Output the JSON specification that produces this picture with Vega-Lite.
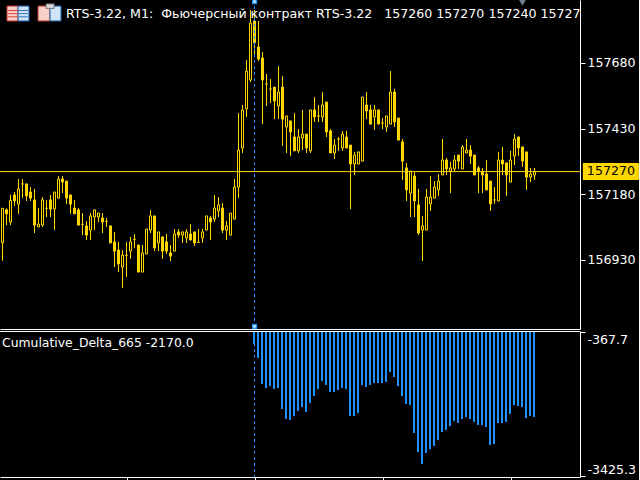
{"$schema":"https://vega.github.io/schema/vega-lite/v6.json","background":"#000000","padding":{"left":-1,"top":-1,"right":0,"bottom":0},"spacing":0,"config":{"view":{"stroke":null}},
"datasets":{
"candles":[
{"i":0,"o":156995,"c":157126,"h":157126,"l":156926},{"i":1,"o":157120,"c":157105,"h":157126,"l":157062},{"i":2,"o":157074,"c":157156,"h":157177,"l":157062},{"i":3,"o":157177,"c":157154,"h":157188,"l":157135},{"i":4,"o":157142,"c":157200,"h":157238,"l":157105},{"i":5,"o":157219,"c":157219,"h":157238,"l":157165},{"i":6,"o":157219,"c":157173,"h":157219,"l":157154},{"i":7,"o":157188,"c":157165,"h":157207,"l":157154},{"i":8,"o":157158,"c":157062,"h":157200,"l":157032},{"i":9,"o":157055,"c":157066,"h":157127,"l":157055},
{"i":10,"o":157062,"c":157158,"h":157169,"l":157055},{"i":11,"o":157126,"c":157126,"h":157158,"l":157093},{"i":12,"o":157158,"c":157123,"h":157177,"l":157093},{"i":13,"o":157123,"c":157188,"h":157188,"l":157043},{"i":14,"o":157165,"c":157238,"h":157249,"l":157165},{"i":15,"o":157238,"c":157226,"h":157249,"l":157184},{"i":16,"o":157230,"c":157165,"h":157230,"l":157142},{"i":17,"o":157177,"c":157142,"h":157177,"l":157105},{"i":18,"o":157127,"c":157105,"h":157158,"l":157105},{"i":19,"o":157120,"c":157062,"h":157127,"l":157062},
{"i":20,"o":157065,"c":157065,"h":157108,"l":157024},{"i":21,"o":157059,"c":157024,"h":157078,"l":157005},{"i":22,"o":157043,"c":157097,"h":157108,"l":157005},{"i":23,"o":157093,"c":157120,"h":157120,"l":157043},{"i":24,"o":157093,"c":157108,"h":157108,"l":157074},{"i":25,"o":157089,"c":157074,"h":157108,"l":157032},{"i":26,"o":157076,"c":157076,"h":157089,"l":157055},{"i":27,"o":157059,"c":156994,"h":157059,"l":156994},{"i":28,"o":156998,"c":156963,"h":157036,"l":156902},{"i":29,"o":156967,"c":156914,"h":156998,"l":156883},
{"i":30,"o":156902,"c":156948,"h":156967,"l":156822},{"i":31,"o":156947,"c":156947,"h":156998,"l":156864},{"i":32,"o":156963,"c":156998,"h":157017,"l":156933},{"i":33,"o":157008,"c":157008,"h":157028,"l":156975},{"i":34,"o":156986,"c":156883,"h":156986,"l":156883},{"i":35,"o":156883,"c":156956,"h":156986,"l":156883},{"i":36,"o":156952,"c":157047,"h":157047,"l":156952},{"i":37,"o":157043,"c":157097,"h":157120,"l":157032},{"i":38,"o":157097,"c":156975,"h":157097,"l":156963},{"i":39,"o":156994,"c":157036,"h":157036,"l":156963},
{"i":40,"o":157017,"c":156963,"h":157017,"l":156933},{"i":41,"o":156998,"c":156963,"h":157028,"l":156952},{"i":42,"o":156956,"c":156944,"h":156986,"l":156925},{"i":43,"o":156963,"c":157028,"h":157047,"l":156963},{"i":44,"o":157036,"c":157024,"h":157047,"l":157013},{"i":45,"o":157024,"c":157036,"h":157036,"l":156994},{"i":46,"o":157013,"c":157036,"h":157047,"l":156994},{"i":47,"o":157028,"c":157005,"h":157066,"l":157005},{"i":48,"o":157036,"c":156994,"h":157036,"l":156982},{"i":49,"o":156996,"c":156996,"h":157047,"l":156994},
{"i":50,"o":157013,"c":157036,"h":157047,"l":156994},{"i":51,"o":157043,"c":157097,"h":157097,"l":157043},{"i":52,"o":157089,"c":157074,"h":157097,"l":157005},{"i":53,"o":157085,"c":157127,"h":157177,"l":157074},{"i":54,"o":157116,"c":157139,"h":157169,"l":157093},{"i":55,"o":157127,"c":157043,"h":157146,"l":157032},{"i":56,"o":157043,"c":157059,"h":157078,"l":157005},{"i":57,"o":157024,"c":157108,"h":157108,"l":157024},{"i":58,"o":157085,"c":157207,"h":157238,"l":157085},{"i":59,"o":157207,"c":157348,"h":157489,"l":157165},
{"i":60,"o":157356,"c":157501,"h":157520,"l":157337},{"i":61,"o":157505,"c":157649,"h":157691,"l":157474},{"i":62,"o":157615,"c":157832,"h":157882,"l":157607},{"i":63,"o":157840,"c":157756,"h":157882,"l":157707},{"i":64,"o":157741,"c":157695,"h":157840,"l":157688},{"i":65,"o":157699,"c":157615,"h":157722,"l":157447},{"i":66,"o":157600,"c":157600,"h":157638,"l":157516},{"i":67,"o":157581,"c":157581,"h":157619,"l":157527},{"i":68,"o":157588,"c":157535,"h":157588,"l":157466},{"i":69,"o":157516,"c":157569,"h":157668,"l":157466},
{"i":70,"o":157588,"c":157466,"h":157630,"l":157364},{"i":71,"o":157436,"c":157478,"h":157478,"l":157337},{"i":72,"o":157459,"c":157417,"h":157459,"l":157325},{"i":73,"o":157398,"c":157345,"h":157489,"l":157345},{"i":74,"o":157345,"c":157398,"h":157428,"l":157337},{"i":75,"o":157394,"c":157409,"h":157501,"l":157348},{"i":76,"o":157409,"c":157356,"h":157409,"l":157337},{"i":77,"o":157345,"c":157501,"h":157501,"l":157337},{"i":78,"o":157501,"c":157474,"h":157550,"l":157455},{"i":79,"o":157478,"c":157478,"h":157520,"l":157455},
{"i":80,"o":157474,"c":157520,"h":157569,"l":157455},{"i":81,"o":157531,"c":157417,"h":157531,"l":157398},{"i":82,"o":157421,"c":157337,"h":157428,"l":157337},{"i":83,"o":157337,"c":157367,"h":157390,"l":157314},{"i":84,"o":157390,"c":157390,"h":157398,"l":157345},{"i":85,"o":157356,"c":157409,"h":157421,"l":157345},{"i":86,"o":157398,"c":157356,"h":157421,"l":157356},{"i":87,"o":157367,"c":157295,"h":157367,"l":157123},{"i":88,"o":157295,"c":157329,"h":157341,"l":157253},{"i":89,"o":157295,"c":157341,"h":157341,"l":157295},
{"i":90,"o":157306,"c":157550,"h":157550,"l":157306},{"i":91,"o":157520,"c":157497,"h":157569,"l":157466},{"i":92,"o":157501,"c":157447,"h":157520,"l":157447},{"i":93,"o":157474,"c":157501,"h":157520,"l":157425},{"i":94,"o":157501,"c":157447,"h":157501,"l":157447},{"i":95,"o":157451,"c":157451,"h":157470,"l":157428},{"i":96,"o":157436,"c":157478,"h":157478,"l":157417},{"i":97,"o":157447,"c":157569,"h":157649,"l":157447},{"i":98,"o":157569,"c":157455,"h":157581,"l":157436},{"i":99,"o":157470,"c":157386,"h":157470,"l":157386},
{"i":100,"o":157379,"c":157306,"h":157390,"l":157234},{"i":101,"o":157280,"c":157196,"h":157299,"l":157154},{"i":102,"o":157184,"c":157268,"h":157268,"l":157093},{"i":103,"o":157249,"c":157154,"h":157265,"l":157093},{"i":104,"o":157139,"c":157032,"h":157200,"l":157024},{"i":105,"o":157043,"c":157059,"h":157097,"l":156925},{"i":106,"o":157043,"c":157169,"h":157200,"l":157043},{"i":107,"o":157143,"c":157169,"h":157249,"l":157116},{"i":108,"o":157165,"c":157207,"h":157230,"l":157165},{"i":109,"o":157196,"c":157230,"h":157257,"l":157173},
{"i":110,"o":157253,"c":157310,"h":157390,"l":157253},{"i":111,"o":157310,"c":157276,"h":157318,"l":157253},{"i":112,"o":157268,"c":157280,"h":157303,"l":157184},{"i":113,"o":157276,"c":157310,"h":157329,"l":157268},{"i":114,"o":157329,"c":157306,"h":157329,"l":157276},{"i":115,"o":157276,"c":157360,"h":157367,"l":157276},{"i":116,"o":157337,"c":157348,"h":157390,"l":157337},{"i":117,"o":157348,"c":157325,"h":157367,"l":157295},{"i":118,"o":157329,"c":157253,"h":157329,"l":157253},{"i":119,"o":157280,"c":157268,"h":157287,"l":157184},
{"i":120,"o":157265,"c":157253,"h":157280,"l":157184},{"i":121,"o":157257,"c":157196,"h":157310,"l":157196},{"i":122,"o":157230,"c":157143,"h":157230,"l":157116},{"i":123,"o":157158,"c":157158,"h":157207,"l":157143},{"i":124,"o":157154,"c":157310,"h":157341,"l":157154},{"i":125,"o":157310,"c":157295,"h":157360,"l":157253},{"i":126,"o":157299,"c":157253,"h":157299,"l":157173},{"i":127,"o":157226,"c":157310,"h":157345,"l":157226},{"i":128,"o":157325,"c":157390,"h":157409,"l":157291},{"i":129,"o":157398,"c":157356,"h":157398,"l":157325},
{"i":130,"o":157360,"c":157306,"h":157360,"l":157284},{"i":131,"o":157341,"c":157245,"h":157341,"l":157196},{"i":132,"o":157245,"c":157257,"h":157280,"l":157226},{"i":133,"o":157253,"c":157265,"h":157280,"l":157234}
],
"delta":[
{"i":63,"d":-623},{"i":64,"d":-920},{"i":65,"d":-1472},{"i":66,"d":-1557},{"i":67,"d":-1514},{"i":68,"d":-1578},{"i":69,"d":-1557},{"i":70,"d":-2003},{"i":71,"d":-2215},{"i":72,"d":-2236},{"i":73,"d":-2151},{"i":74,"d":-2045},{"i":75,"d":-1960},{"i":76,"d":-2066},{"i":77,"d":-1875},{"i":78,"d":-1727},{"i":79,"d":-1578},{"i":80,"d":-1408},{"i":81,"d":-1493},{"i":82,"d":-1642},{"i":83,"d":-1642},{"i":84,"d":-1599},{"i":85,"d":-1557},{"i":86,"d":-1578},{"i":87,"d":-2151},{"i":88,"d":-2151},{"i":89,"d":-2088},{"i":90,"d":-1493},{"i":91,"d":-1535},{"i":92,"d":-1493},{"i":93,"d":-1451},{"i":94,"d":-1451},{"i":95,"d":-1451},{"i":96,"d":-1429},{"i":97,"d":-1217},{"i":98,"d":-1323},{"i":99,"d":-1514},{"i":100,"d":-1727},{"i":101,"d":-1896},{"i":102,"d":-1918},{"i":103,"d":-2512},{"i":104,"d":-2916},{"i":105,"d":-3170},{"i":106,"d":-2937},{"i":107,"d":-2852},{"i":108,"d":-2788},{"i":109,"d":-2661},{"i":110,"d":-2491},{"i":111,"d":-2449},{"i":112,"d":-2364},{"i":113,"d":-2257},{"i":114,"d":-2300},{"i":115,"d":-2215},{"i":116,"d":-2172},{"i":117,"d":-2215},{"i":118,"d":-2279},{"i":119,"d":-2342},{"i":120,"d":-2342},{"i":121,"d":-2385},{"i":122,"d":-2767},{"i":123,"d":-2746},{"i":124,"d":-2300},{"i":125,"d":-2300},{"i":126,"d":-2279},{"i":127,"d":-2109},{"i":128,"d":-1918},{"i":129,"d":-1939},{"i":130,"d":-1960},{"i":131,"d":-2194},{"i":132,"d":-2151},{"i":133,"d":-2172}
]},
"vconcat":[
{"width":580,"height":329,"layer":[
{"data":{"name":"candles"},"mark":{"type":"rule","color":"#FFD700","strokeWidth":1,"clip":true},"encoding":{
"x":{"field":"i","type":"quantitative","title":null,"scale":{"domain":[-0.625,144.375],"nice":false,"zero":false,"padding":0},"axis":{"ticks":false,"labels":false,"grid":false,"domainColor":"#ffffff","title":null}},
"y":{"field":"l","type":"quantitative","title":null,"scale":{"domain":[156666,157920],"nice":false,"zero":false},"axis":{"orient":"right","values":[157680,157430,157180,156930],"grid":false,"domainColor":"#ffffff","tickColor":"#ffffff","tickSize":5,"labelColor":"#ffffff","labelFont":"DejaVu Sans","labelFontSize":12.6,"labelPadding":2,"format":"d","title":null}},
"y2":{"field":"h"}}},
{"data":{"name":"candles"},"transform":[{"filter":"datum.c>datum.o"}],"mark":{"type":"bar","size":2,"orient":"vertical","fill":"#000000","stroke":"#FFD700","strokeWidth":1,"clip":true},"encoding":{"x":{"field":"i","type":"quantitative"},"y":{"field":"o","type":"quantitative"},"y2":{"field":"c"}}},
{"data":{"name":"candles"},"transform":[{"filter":"datum.c<=datum.o"}],"mark":{"type":"bar","size":2,"orient":"vertical","fill":"#FFD700","stroke":"#FFD700","strokeWidth":1,"clip":true},"encoding":{"x":{"field":"i","type":"quantitative"},"y":{"field":"o","type":"quantitative"},"y2":{"field":"c"}}},
{"data":{"values":[{"p":157266}]},"mark":{"type":"rule","color":"#FFD700","strokeWidth":1},"encoding":{"y":{"field":"p","type":"quantitative"}}},
{"data":{"values":[{"i":63}]},"mark":{"type":"rule","color":"#1E90FF","strokeWidth":1,"strokeDash":[3,3]},"encoding":{"x":{"field":"i","type":"quantitative"}}},
{"data":{"values":[{"i":63,"p":157914},{"i":63,"p":156676}]},"mark":{"type":"point","shape":"square","filled":true,"fill":"#ffffff","stroke":"#1E90FF","strokeWidth":1.5,"size":14,"opacity":1,"clip":true},"encoding":{"x":{"field":"i","type":"quantitative"},"y":{"field":"p","type":"quantitative"}}},
{"data":{"values":[{"i":130,"p":157918}]},"mark":{"type":"point","shape":"triangle-down","filled":true,"fill":"#708090","size":150,"opacity":1,"clip":true},"encoding":{"x":{"field":"i","type":"quantitative"},"y":{"field":"p","type":"quantitative"}}},
{"data":{"values":[{"a":1.125,"b":3.875,"p":157897,"q":157840},{"a":8.875,"b":11.875,"p":157897,"q":157840}]},"mark":{"type":"rect","fill":"#f7cfc8","stroke":"#c8342b","strokeWidth":1},"encoding":{"x":{"field":"a","type":"quantitative"},"x2":{"field":"b"},"y":{"field":"p","type":"quantitative"},"y2":{"field":"q"}}},
{"data":{"values":[{"a":3.875,"b":6.625,"p":157897,"q":157840},{"a":11.875,"b":14.625,"p":157897,"q":157840}]},"mark":{"type":"rect","fill":"#cfe4f7","stroke":"#1b62ad","strokeWidth":1},"encoding":{"x":{"field":"a","type":"quantitative"},"x2":{"field":"b"},"y":{"field":"p","type":"quantitative"},"y2":{"field":"q"}}},
{"data":{"values":[{"a":1.4,"b":3.875,"p":157880},{"a":1.4,"b":3.875,"p":157868},{"a":1.4,"b":3.875,"p":157856}]},"mark":{"type":"rule","color":"#d9483b","strokeWidth":1},"encoding":{"x":{"field":"a","type":"quantitative"},"x2":{"field":"b"},"y":{"field":"p","type":"quantitative"}}},
{"data":{"values":[{"a":3.875,"b":6.35,"p":157880},{"a":3.875,"b":6.35,"p":157868},{"a":3.875,"b":6.35,"p":157856}]},"mark":{"type":"rule","color":"#2a75c0","strokeWidth":1},"encoding":{"x":{"field":"a","type":"quantitative"},"x2":{"field":"b"},"y":{"field":"p","type":"quantitative"}}},
{"data":{"values":[{"a":10.9,"b":12.9,"p":157905,"q":157888}]},"mark":{"type":"rect","fill":"#d8d8d8","stroke":"#777777","strokeWidth":1},"encoding":{"x":{"field":"a","type":"quantitative"},"x2":{"field":"b"},"y":{"field":"p","type":"quantitative"},"y2":{"field":"q"}}},
{"data":{"values":[{"i":15.875,"p":157866,"t":"RTS-3.22, M1:\u00a0\u00a0Фьючерсный контракт RTS-3.22\u00a0\u00a0\u00a0157260\u00a0157270\u00a0157240\u00a0157270"}]},"mark":{"type":"text","align":"left","baseline":"middle","color":"#ffffff","font":"DejaVu Sans","fontSize":12.6,"clip":true},"encoding":{"x":{"field":"i","type":"quantitative"},"y":{"field":"p","type":"quantitative"},"text":{"field":"t"}}},
{"data":{"values":[{"a":145.1,"b":159.1,"p":157299,"q":157234}]},"mark":{"type":"rect","fill":"#FFD700"},"encoding":{"x":{"field":"a","type":"quantitative"},"x2":{"field":"b"},"y":{"field":"p","type":"quantitative"},"y2":{"field":"q"}}},
{"data":{"values":[{"i":152.1,"p":157270,"t":"157270"}]},"mark":{"type":"text","align":"center","baseline":"middle","color":"#000000","font":"DejaVu Sans","fontSize":12.6},"encoding":{"x":{"field":"i","type":"quantitative"},"y":{"field":"p","type":"quantitative"},"text":{"field":"t"}}}
]},
{"width":580,"height":146,"layer":[
{"data":{"name":"delta"},"mark":{"type":"bar","size":2,"orient":"vertical","color":"#1E90FF","xOffset":-0.5},"encoding":{
"x":{"field":"i","type":"quantitative","title":null,"scale":{"domain":[-0.625,144.375],"nice":false,"zero":false,"padding":0},"axis":{"values":[31,63,95,127],"labels":false,"grid":false,"domainColor":"#ffffff","tickColor":"#ffffff","tickSize":3,"title":null}},
"y":{"field":"d","type":"quantitative","title":null,"scale":{"domain":[-3446,-346.5],"nice":false,"zero":false},"axis":{"orient":"right","values":[-367.7,-3425.3],"grid":false,"domainColor":"#ffffff","tickColor":"#ffffff","tickSize":5,"labelColor":"#ffffff","labelFont":"DejaVu Sans","labelFontSize":12.6,"labelPadding":2,"labelOffset":{"expr":"datum.value > -1000 ? 8 : -7"},"labelExpr":"'' + datum.value","title":null}},
"y2":{"datum":-367.7}}},
{"data":{"values":[{"i":63}]},"mark":{"type":"rule","color":"#1E90FF","strokeWidth":1,"strokeDash":[3,3]},"encoding":{"x":{"field":"i","type":"quantitative"}}},
{"data":{"values":[{"v":-357.1}]},"mark":{"type":"rule","color":"#ffffff","strokeWidth":1},"encoding":{"y":{"field":"v","type":"quantitative"}}},
{"data":{"values":[{"i":-0.125,"v":-601,"t":"Cumulative_Delta_665 -2170.0"}]},"mark":{"type":"text","align":"left","baseline":"middle","color":"#ffffff","font":"DejaVu Sans","fontSize":12.4},"encoding":{"x":{"field":"i","type":"quantitative"},"y":{"field":"v","type":"quantitative"},"text":{"field":"t"}}}
]}
]}
